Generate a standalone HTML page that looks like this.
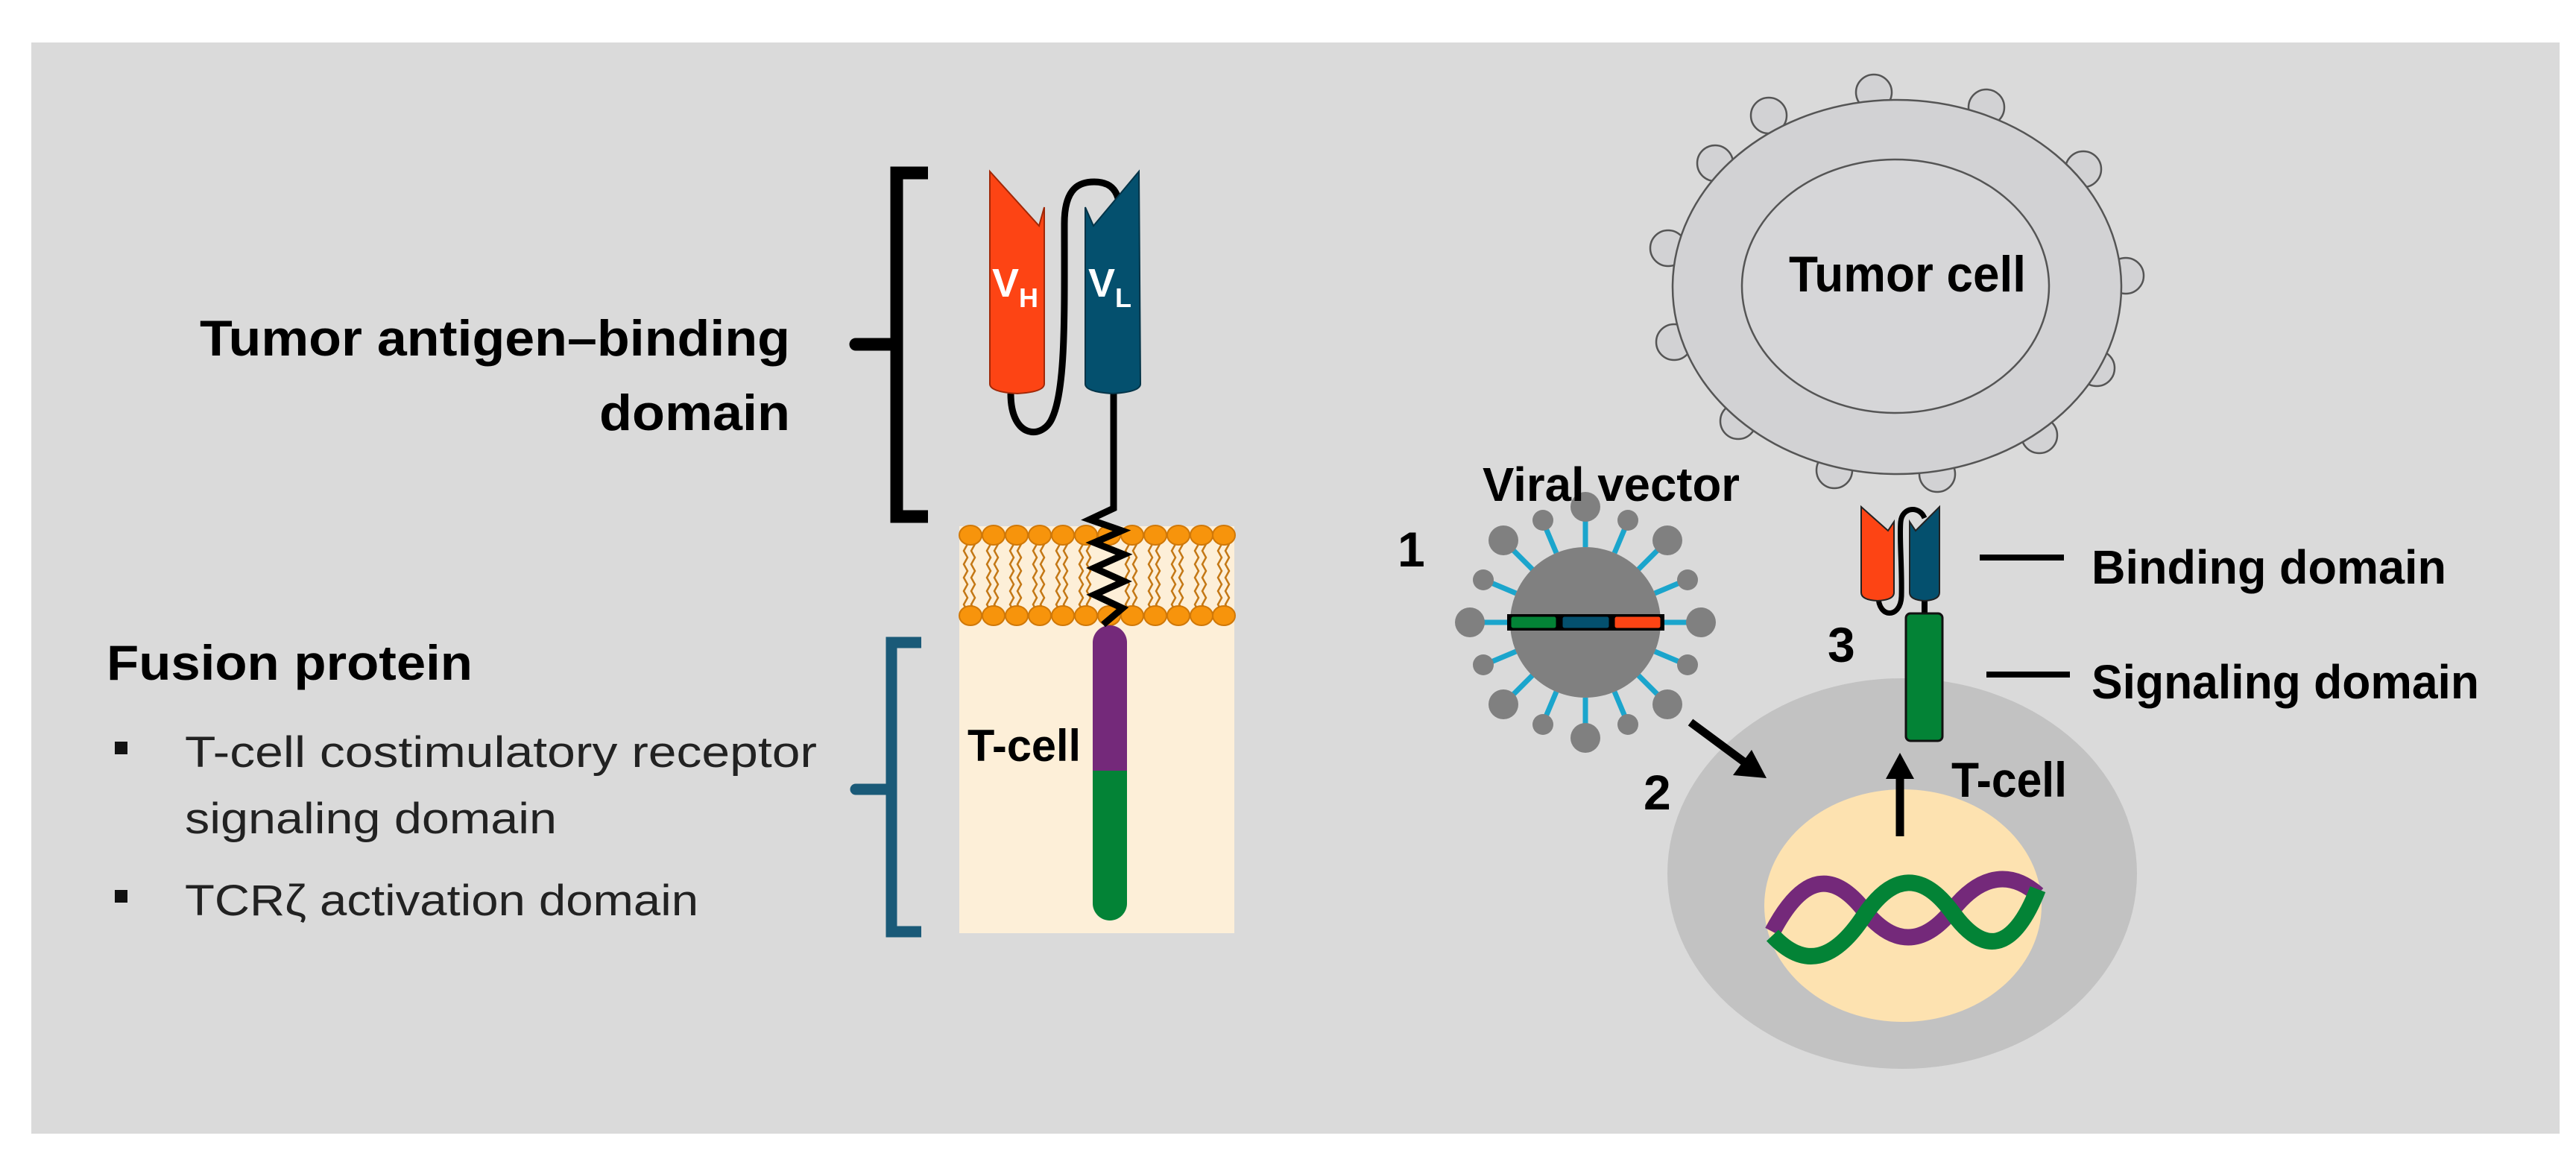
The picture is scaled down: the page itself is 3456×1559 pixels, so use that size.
<!DOCTYPE html>
<html><head><meta charset="utf-8"><style>
html,body{margin:0;padding:0;background:#fff;}
svg{display:block;}
text{font-family:"Liberation Sans",sans-serif;}
</style></head><body>
<svg width="3456" height="1559" viewBox="0 0 3456 1559" xmlns="http://www.w3.org/2000/svg">
<rect x="0" y="0" width="3456" height="1559" fill="#ffffff"/>
<rect x="42" y="57" width="3392" height="1464" fill="#dadada"/>

<!-- LEFT: texts -->
<text x="268" y="477" font-size="68" font-weight="bold" textLength="792" lengthAdjust="spacingAndGlyphs">Tumor antigen–binding</text>
<text x="804" y="577" font-size="68" font-weight="bold" textLength="256" lengthAdjust="spacingAndGlyphs">domain</text>
<text x="143" y="912" font-size="66" font-weight="bold" textLength="491" lengthAdjust="spacingAndGlyphs">Fusion protein</text>
<rect x="154" y="995" width="17" height="17" fill="#111"/>
<rect x="154" y="1194" width="17" height="17" fill="#111"/>
<text x="248" y="1029" font-size="58" fill="#222" textLength="848" lengthAdjust="spacingAndGlyphs">T-cell costimulatory receptor</text>
<text x="248" y="1118" font-size="58" fill="#222" textLength="499" lengthAdjust="spacingAndGlyphs">signaling domain</text>
<text x="248" y="1228" font-size="58" fill="#222" textLength="689" lengthAdjust="spacingAndGlyphs">TCRζ activation domain</text>

<!-- black bracket -->
<path d="M1245 232 H1203 V693 H1245" fill="none" stroke="#000" stroke-width="17"/>
<path d="M1148 462 H1203" stroke="#000" stroke-width="17" stroke-linecap="round"/>
<!-- blue bracket -->
<path d="M1236 862 H1196 V1250 H1236" fill="none" stroke="#1a5a78" stroke-width="15"/>
<path d="M1148 1059 H1196" stroke="#1a5a78" stroke-width="15" stroke-linecap="round"/>

<!-- membrane + cell -->
<rect x="1287" y="706" width="369" height="546" fill="#fdefd8"/>
<g stroke="#c47816" stroke-width="2.5" fill="none">
<path d="M1298 730 l-5 9 l5 9 l-5 9 l5 9 l-5 9 l5 9 l-5 9 l5 9 l-5 9 l5 9 M1308 730 l-5 9 l5 9 l-5 9 l5 9 l-5 9 l5 9 l-5 9 l5 9 l-5 9 l5 9"/>
<path d="M1329 730 l-5 9 l5 9 l-5 9 l5 9 l-5 9 l5 9 l-5 9 l5 9 l-5 9 l5 9 M1339 730 l-5 9 l5 9 l-5 9 l5 9 l-5 9 l5 9 l-5 9 l5 9 l-5 9 l5 9"/>
<path d="M1360 730 l-5 9 l5 9 l-5 9 l5 9 l-5 9 l5 9 l-5 9 l5 9 l-5 9 l5 9 M1370 730 l-5 9 l5 9 l-5 9 l5 9 l-5 9 l5 9 l-5 9 l5 9 l-5 9 l5 9"/>
<path d="M1391 730 l-5 9 l5 9 l-5 9 l5 9 l-5 9 l5 9 l-5 9 l5 9 l-5 9 l5 9 M1401 730 l-5 9 l5 9 l-5 9 l5 9 l-5 9 l5 9 l-5 9 l5 9 l-5 9 l5 9"/>
<path d="M1422 730 l-5 9 l5 9 l-5 9 l5 9 l-5 9 l5 9 l-5 9 l5 9 l-5 9 l5 9 M1432 730 l-5 9 l5 9 l-5 9 l5 9 l-5 9 l5 9 l-5 9 l5 9 l-5 9 l5 9"/>
<path d="M1453 730 l-5 9 l5 9 l-5 9 l5 9 l-5 9 l5 9 l-5 9 l5 9 l-5 9 l5 9 M1463 730 l-5 9 l5 9 l-5 9 l5 9 l-5 9 l5 9 l-5 9 l5 9 l-5 9 l5 9"/>
<path d="M1515 730 l-5 9 l5 9 l-5 9 l5 9 l-5 9 l5 9 l-5 9 l5 9 l-5 9 l5 9 M1525 730 l-5 9 l5 9 l-5 9 l5 9 l-5 9 l5 9 l-5 9 l5 9 l-5 9 l5 9"/>
<path d="M1546 730 l-5 9 l5 9 l-5 9 l5 9 l-5 9 l5 9 l-5 9 l5 9 l-5 9 l5 9 M1556 730 l-5 9 l5 9 l-5 9 l5 9 l-5 9 l5 9 l-5 9 l5 9 l-5 9 l5 9"/>
<path d="M1577 730 l-5 9 l5 9 l-5 9 l5 9 l-5 9 l5 9 l-5 9 l5 9 l-5 9 l5 9 M1587 730 l-5 9 l5 9 l-5 9 l5 9 l-5 9 l5 9 l-5 9 l5 9 l-5 9 l5 9"/>
<path d="M1608 730 l-5 9 l5 9 l-5 9 l5 9 l-5 9 l5 9 l-5 9 l5 9 l-5 9 l5 9 M1618 730 l-5 9 l5 9 l-5 9 l5 9 l-5 9 l5 9 l-5 9 l5 9 l-5 9 l5 9"/>
<path d="M1639 730 l-5 9 l5 9 l-5 9 l5 9 l-5 9 l5 9 l-5 9 l5 9 l-5 9 l5 9 M1649 730 l-5 9 l5 9 l-5 9 l5 9 l-5 9 l5 9 l-5 9 l5 9 l-5 9 l5 9"/>
</g>
<g fill="#f7940c" stroke="#d07808" stroke-width="2">
<ellipse cx="1302" cy="718" rx="15" ry="13"/><ellipse cx="1333" cy="718" rx="15" ry="13"/><ellipse cx="1364" cy="718" rx="15" ry="13"/><ellipse cx="1395" cy="718" rx="15" ry="13"/><ellipse cx="1426" cy="718" rx="15" ry="13"/><ellipse cx="1457" cy="718" rx="15" ry="13"/><ellipse cx="1488" cy="718" rx="15" ry="13"/><ellipse cx="1519" cy="718" rx="15" ry="13"/><ellipse cx="1550" cy="718" rx="15" ry="13"/><ellipse cx="1581" cy="718" rx="15" ry="13"/><ellipse cx="1612" cy="718" rx="15" ry="13"/><ellipse cx="1642" cy="718" rx="15" ry="13"/>
<ellipse cx="1302" cy="826" rx="15" ry="13"/><ellipse cx="1333" cy="826" rx="15" ry="13"/><ellipse cx="1364" cy="826" rx="15" ry="13"/><ellipse cx="1395" cy="826" rx="15" ry="13"/><ellipse cx="1426" cy="826" rx="15" ry="13"/><ellipse cx="1457" cy="826" rx="15" ry="13"/><ellipse cx="1488" cy="826" rx="15" ry="13"/><ellipse cx="1519" cy="826" rx="15" ry="13"/><ellipse cx="1550" cy="826" rx="15" ry="13"/><ellipse cx="1581" cy="826" rx="15" ry="13"/><ellipse cx="1612" cy="826" rx="15" ry="13"/><ellipse cx="1642" cy="826" rx="15" ry="13"/>
</g>
<!-- stick -->
<path d="M1466 862 a23 23 0 0 1 46 0 V1034 H1466 Z" fill="#74297a"/>
<path d="M1466 1034 H1512 V1212 a23 23 0 0 1 -46 0 Z" fill="#038336"/>
<text x="1298" y="1021" font-size="60" font-weight="bold" textLength="152" lengthAdjust="spacingAndGlyphs">T-cell</text>

<!-- scFv -->
<path d="M1356 528 C1356 590 1400 590 1412 560 C1430 520 1428 420 1428 300 C1428 250 1450 244 1468 244 C1486 244 1496 252 1500 266" fill="none" stroke="#000" stroke-width="9"/>
<path d="M1494 520 V682 L1462 697 L1505 712 L1468 728 L1508 744 L1468 762 L1508 780 L1468 798 L1506 816 L1480 838" fill="none" stroke="#000" stroke-width="9" stroke-linejoin="miter"/>
<path d="M1328 230 L1394 303 L1401 278 V515 Q1401 526 1365 528 Q1328 526 1328 515 Z" fill="#fd4414" stroke="#a02808" stroke-width="2"/>
<path d="M1456 278 L1467 303 L1528 230 L1530 515 Q1530 526 1493 528 Q1456 526 1456 515 Z" fill="#04506e" stroke="#033448" stroke-width="2"/>
<text x="1331" y="398" font-size="54" font-weight="bold" fill="#fff">V<tspan font-size="36" dy="14">H</tspan></text>
<text x="1460" y="398" font-size="54" font-weight="bold" fill="#fff">V<tspan font-size="36" dy="14">L</tspan></text>

<!-- RIGHT: tumor cell -->
<g fill="#d2d2d4" stroke="#555" stroke-width="2.5">
<circle cx="2373" cy="155" r="24"/><circle cx="2514" cy="124" r="24"/><circle cx="2665" cy="144" r="24"/><circle cx="2301" cy="219" r="24"/><circle cx="2795" cy="227" r="24"/><circle cx="2238" cy="333" r="24"/><circle cx="2852" cy="370" r="24"/><circle cx="2246" cy="459" r="24"/><circle cx="2813" cy="494" r="24"/><circle cx="2332" cy="565" r="24"/><circle cx="2736" cy="584" r="24"/><circle cx="2461" cy="631" r="24"/><circle cx="2599" cy="636" r="24"/>
</g>
<ellipse cx="2545" cy="385" rx="301" ry="251" fill="#d2d2d4" stroke="#555" stroke-width="2.5"/>
<ellipse cx="2543" cy="384" rx="206" ry="170" fill="#d6d6d8" stroke="#555" stroke-width="2.5"/>
<text x="2400" y="391" font-size="68" font-weight="bold" textLength="318" lengthAdjust="spacingAndGlyphs">Tumor cell</text>

<!-- T cell -->
<ellipse cx="2552" cy="1172" rx="315" ry="262" fill="#c2c2c2"/>
<ellipse cx="2553" cy="1215" rx="186" ry="156" fill="#fde2b0"/>
<path d="M2378 1250 C2420 1170 2460 1170 2500 1220 C2540 1270 2580 1270 2620 1220 C2660 1170 2700 1170 2734 1200" fill="none" stroke="#74297a" stroke-width="22"/>
<path d="M2378 1255 C2420 1300 2460 1290 2500 1230 C2540 1170 2580 1170 2620 1225 C2660 1280 2700 1280 2734 1193" fill="none" stroke="#038336" stroke-width="22"/>
<text x="2618" y="1069" font-size="66" font-weight="bold" textLength="155" lengthAdjust="spacingAndGlyphs">T-cell</text>

<!-- arrows -->
<path d="M2268 969 L2345 1026" stroke="#000" stroke-width="11"/>
<path d="M2370 1044 L2325 1040 L2350 1006 Z" fill="#000"/>
<path d="M2549 1122 V1040" stroke="#000" stroke-width="11"/>
<path d="M2549 1010 L2530 1045 H2568 Z" fill="#000"/>
<text x="2205" y="1086" font-size="66" font-weight="bold">2</text>
<text x="1875" y="760" font-size="66" font-weight="bold">1</text>
<text x="2452" y="888" font-size="66" font-weight="bold">3</text>

<!-- virus -->
<g stroke="#1ba5cc" stroke-width="7">
<path d="M2127 835 m0 -101 v-50 M2127 835 m0 101 v50 M2127 835 m-101 0 h-50 M2127 835 m101 0 h50"/>
<path d="M2198 764 l35 -35 M2056 764 l-35 -35 M2198 906 l35 35 M2056 906 l-35 35"/>
<path d="M2166 742 l16 -38 M2088 742 l-16 -38 M2166 928 l16 38 M2088 928 l-16 38 M2220 796 l38 -16 M2034 796 l-38 -16 M2220 874 l38 16 M2034 874 l-38 16"/>
</g>
<circle cx="2127" cy="835" r="101" fill="#808080"/>
<g fill="#808080">
<circle cx="2127" cy="680" r="20"/><circle cx="2127" cy="990" r="20"/><circle cx="1972" cy="835" r="20"/><circle cx="2282" cy="835" r="20"/>
<circle cx="2237" cy="725" r="20"/><circle cx="2017" cy="725" r="20"/><circle cx="2237" cy="945" r="20"/><circle cx="2017" cy="945" r="20"/>
<circle cx="2184" cy="698" r="14"/><circle cx="2070" cy="698" r="14"/><circle cx="2184" cy="972" r="14"/><circle cx="2070" cy="972" r="14"/>
<circle cx="2264" cy="778" r="14"/><circle cx="1990" cy="778" r="14"/><circle cx="2264" cy="892" r="14"/><circle cx="1990" cy="892" r="14"/>
</g>
<rect x="2022" y="824" width="211" height="22" fill="#000"/>
<rect x="2026" y="826" width="63" height="18" rx="4" fill="#038336" stroke="#000" stroke-width="3"/>
<rect x="2095" y="826" width="65" height="18" rx="4" fill="#04506e" stroke="#000" stroke-width="3"/>
<rect x="2165" y="826" width="64" height="18" rx="4" fill="#fd4414" stroke="#000" stroke-width="3"/>
<text x="1989" y="672" font-size="64" font-weight="bold" textLength="345" lengthAdjust="spacingAndGlyphs">Viral vector</text>

<!-- small CAR -->
<path d="M2520 800 C2520 830 2550 830 2551 800 C2552 760 2548 720 2550 700 C2552 680 2575 678 2582 695" fill="none" stroke="#000" stroke-width="7"/>
<path d="M2582 800 V826" stroke="#000" stroke-width="8"/>
<path d="M2497 680 L2533 712 L2541 700 V795 Q2541 805 2519 806 Q2497 805 2497 795 Z" fill="#fd4414" stroke="#222" stroke-width="2"/>
<path d="M2562 700 L2570 712 L2602 680 V795 Q2602 805 2582 806 Q2562 805 2562 795 Z" fill="#04506e" stroke="#222" stroke-width="2"/>
<rect x="2557" y="823" width="49" height="171" rx="6" fill="#038336" stroke="#111" stroke-width="3"/>
<path d="M2656 748 H2769" stroke="#000" stroke-width="8"/>
<path d="M2665 905 H2777" stroke="#000" stroke-width="8"/>
<text x="2806" y="783" font-size="64" font-weight="bold" textLength="476" lengthAdjust="spacingAndGlyphs">Binding domain</text>
<text x="2806" y="937" font-size="64" font-weight="bold" textLength="520" lengthAdjust="spacingAndGlyphs">Signaling domain</text>
</svg>
</body></html>
